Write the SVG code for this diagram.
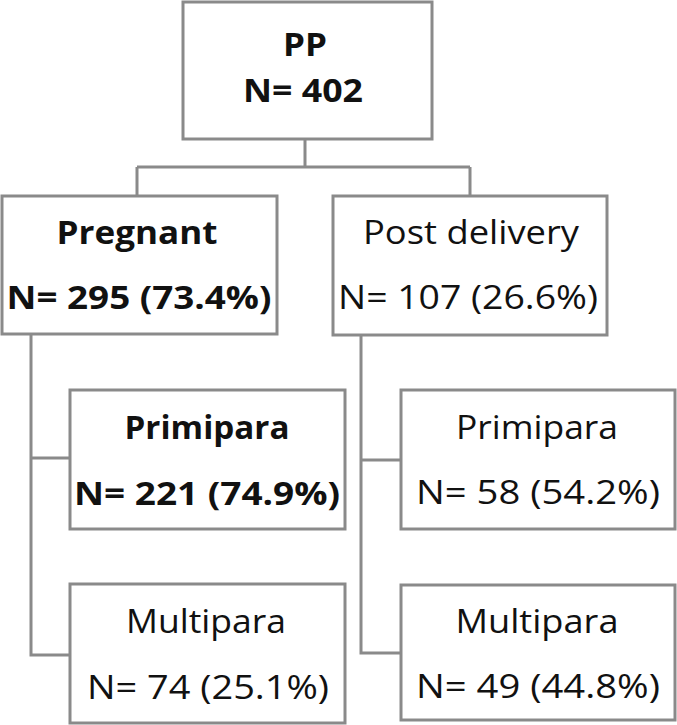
<svg xmlns="http://www.w3.org/2000/svg" width="677" height="725" viewBox="0 0 677 725">
<style>
.box{fill:#fff;stroke:#8a8a8a;stroke-width:3}
.con{fill:none;stroke:#8a8a8a;stroke-width:3}
text{font-family:"Open Sans",Lato,"Liberation Sans",sans-serif;font-size:33px;fill:#111;text-anchor:middle}
.b{font-weight:bold}
</style>
<rect width="677" height="725" fill="#fff"/>
<g id="connectors">
<path class="con" d="M305,140 V167 M137,167 H470 M137,167 V196 M470,167 V196"/>
<path class="con" d="M31,335 V655 H70 M31,458 H70"/>
<path class="con" d="M361,335 V653 H401 M361,460 H401"/>
</g>
<g id="pp">
<rect class="box" x="183" y="2" width="249" height="137"/>
<text class="b" x="305" y="56" textLength="44" lengthAdjust="spacingAndGlyphs">PP</text>
<text class="b" x="303" y="102" textLength="120" lengthAdjust="spacingAndGlyphs">N= 402</text>
</g>
<g id="pregnant">
<rect class="box" x="2" y="196" width="275" height="138"/>
<text class="b" x="137" y="244" textLength="161" lengthAdjust="spacingAndGlyphs">Pregnant</text>
<text class="b" x="139" y="309" textLength="265" lengthAdjust="spacingAndGlyphs">N= 295 (73.4%)</text>
</g>
<g id="post">
<rect class="box" x="333" y="196" width="274" height="139"/>
<text x="471" y="244" textLength="216" lengthAdjust="spacingAndGlyphs">Post delivery</text>
<text x="468" y="309" textLength="260" lengthAdjust="spacingAndGlyphs">N= 107 (26.6%)</text>
</g>
<g id="primi1">
<rect class="box" x="70" y="390" width="275" height="139"/>
<text class="b" x="207" y="439" textLength="165" lengthAdjust="spacingAndGlyphs">Primipara</text>
<text class="b" x="207" y="505" textLength="266" lengthAdjust="spacingAndGlyphs">N= 221 (74.9%)</text>
</g>
<g id="multi1">
<rect class="box" x="70" y="584" width="275" height="139"/>
<text x="206" y="633" textLength="160" lengthAdjust="spacingAndGlyphs">Multipara</text>
<text x="208" y="699" textLength="242" lengthAdjust="spacingAndGlyphs">N= 74 (25.1%)</text>
</g>
<g id="primi2">
<rect class="box" x="401" y="390" width="274" height="139"/>
<text x="537" y="439" textLength="162" lengthAdjust="spacingAndGlyphs">Primipara</text>
<text x="538" y="504" textLength="244" lengthAdjust="spacingAndGlyphs">N= 58 (54.2%)</text>
</g>
<g id="multi2">
<rect class="box" x="401" y="585" width="274" height="135"/>
<text x="537" y="633" textLength="163" lengthAdjust="spacingAndGlyphs">Multipara</text>
<text x="538" y="698" textLength="244" lengthAdjust="spacingAndGlyphs">N= 49 (44.8%)</text>
</g>
</svg>
